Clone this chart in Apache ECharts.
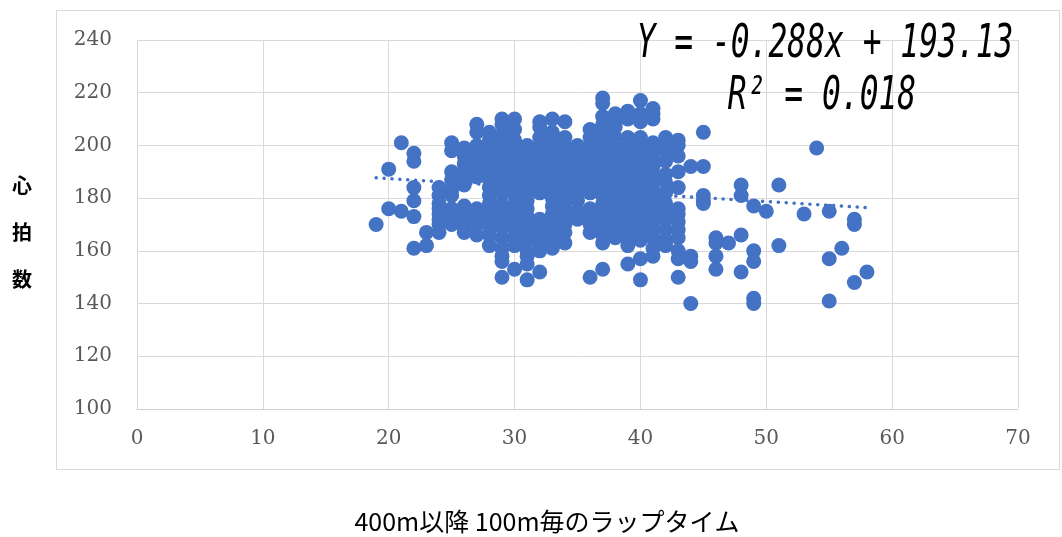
<!DOCTYPE html>
<html>
<head>
<meta charset="utf-8">
<script src="https://cdn.jsdelivr.net/npm/echarts@6/dist/echarts.min.js"></script>
<style>
html,body{margin:0;padding:0;background:#fff;}
#chart{width:1062px;height:537px;}
</style>
</head>
<body>
<div id="chart"></div>
<script>
// Lap time (x) columns and the heart rates read at each lap time
const lapTimes = [19,20,21,22,23,24,25,26,27,28,29,30,31,32,33,34,35,36,37,38,39,40,41,42,43,44,45,46,47,48,49,50,51,53,54,55,56,57,58];
const heartRates = [
  [170],
  [191,176],
  [201,175],
  [197,194,184,179,173,161],
  [167,162],
  [184,181,178,176,174,172,170,167],
  [201,198,190,187,183,181,176,173,170],
  [199,196,193,190,187,185,177,175,172,169,167],
  [208,205,200,197,194,191,188,176,173,170,166],
  [205,202,199,196,193,190,187,184,181,178,175,172,169,166,162],
  [210,208,204,200,197,194,191,188,185,182,178,175,172,169,165,161,158,156,150],
  [210,206,202,199,196,193,190,187,184,181,177,174,171,168,165,162,153],
  [200,197,194,191,188,185,182,179,176,173,170,167,164,160,158,155,149],
  [209,207,203,200,197,194,191,188,185,182,172,169,166,163,160,152],
  [210,205,201,198,195,192,189,186,183,180,177,174,171,168,165,161],
  [209,203,200,197,194,191,188,185,182,179,176,173,170,167,163],
  [200,197,194,191,188,185,182,179,175,172],
  [206,203,200,197,194,191,188,185,182,176,173,170,167,150],
  [218,216,211,208,205,202,199,196,193,190,187,184,181,178,175,172,169,166,163,153],
  [212,209,207,203,200,197,194,191,188,185,182,179,176,173,170,167,165],
  [213,210,203,200,197,194,191,188,185,182,179,176,173,170,167,164,162,155],
  [217,212,209,203,200,197,194,191,188,185,182,179,176,173,170,167,164,157,149],
  [214,212,210,201,198,195,192,189,186,183,180,177,174,171,168,165,161,158],
  [203,201,198,194,189,186,182,178,175,172,168,164,162],
  [202,200,196,190,184,176,174,171,168,165,160,157,150],
  [192,158,156,140],
  [205,192,181,179,178],
  [165,163,158,153],
  [163],
  [185,181,166,152],
  [177,160,156,142,140],
  [175],
  [185,162],
  [174],
  [199],
  [175,157,141],
  [161],
  [172,170,148],
  [152]
];
// Trendline end points as drawn in the picture
const trendX = [19, 58];
const trendY = [187.7, 176.4];
const xTicks = [0,10,20,30,40,50,60,70];
const yTicks = [100,120,140,160,180,200,220,240];
const equationText = ['Y = -0.288x + 193.13', 'R\u00b2 = 0.018'];
const xTitle = '400m以降 100m毎のラップタイム';
const yTitle = '心\n拍\n数';

const points = [];
lapTimes.forEach((x, i) => heartRates[i].forEach(v => points.push([x, v])));
const trend = trendX.map((x, i) => [x, trendY[i]]);

const chart = echarts.init(document.getElementById('chart'), null, {renderer: 'canvas'});
const labelFont = {fontFamily: 'DejaVu Serif', fontSize: 20, color: '#595959'};
chart.setOption({
  backgroundColor: '#ffffff',
  animation: false,
  grid: {left: 137, right: 44, top: 40, bottom: 128},
  xAxis: {
    type: 'value', min: xTicks[0], max: xTicks[xTicks.length-1], interval: 10,
    axisLine: {show: true, lineStyle: {color: '#d0d0d0', width: 1}},
    axisTick: {show: false},
    axisLabel: Object.assign({margin: 20}, labelFont),
    splitLine: {show: true, lineStyle: {color: '#d9d9d9', width: 1}}
  },
  yAxis: {
    type: 'value', min: yTicks[0], max: yTicks[yTicks.length-1], interval: 20,
    axisLine: {show: false},
    axisTick: {show: false},
    axisLabel: Object.assign({margin: 25}, labelFont),
    splitLine: {show: true, lineStyle: {color: '#d9d9d9', width: 1}}
  },
  series: [
    {
      type: 'line', data: trend, showSymbol: false, z: 1, silent: true,
      lineStyle: {color: '#4472C4', width: 3.5, type: [0.1, 7.8], cap: 'round'}
    },
    {
      type: 'scatter', data: points, symbol: 'circle', symbolSize: 15, z: 2,
      itemStyle: {color: '#4472C4', opacity: 1}
    }
  ],
  graphic: [
    {type: 'rect', z: -10, shape: {x: 56.5, y: 10.5, width: 1003, height: 459},
      style: {fill: 'none', stroke: '#d9d9d9', lineWidth: 1}},
    {type: 'text', x: 825, y: 45, scaleX: 0.68, z: 10,
      style: {text: equationText[0], fontFamily: 'DejaVu Sans Mono', fontStyle: 'italic', fontSize: 46,
        fill: '#000', textAlign: 'center', textVerticalAlign: 'middle'}},
    {type: 'text', x: 822, y: 97, scaleX: 0.68, z: 10,
      style: {text: equationText[1], fontFamily: 'DejaVu Sans Mono', fontStyle: 'italic', fontSize: 46,
        fill: '#000', textAlign: 'center', textVerticalAlign: 'middle'}},
    {type: 'text', x: 22, y: 232, z: 10,
      style: {text: yTitle, fontFamily: 'Noto Sans CJK JP', fontWeight: 'bold', fontSize: 20, lineHeight: 47,
        fill: '#000', textAlign: 'center', textVerticalAlign: 'middle'}},
    {type: 'text', x: 547, y: 521, z: 10,
      style: {text: xTitle, fontFamily: 'Noto Sans CJK JP', fontSize: 25,
        fill: '#000', textAlign: 'center', textVerticalAlign: 'middle'}}
  ]
});
</script>
</body>
</html>
